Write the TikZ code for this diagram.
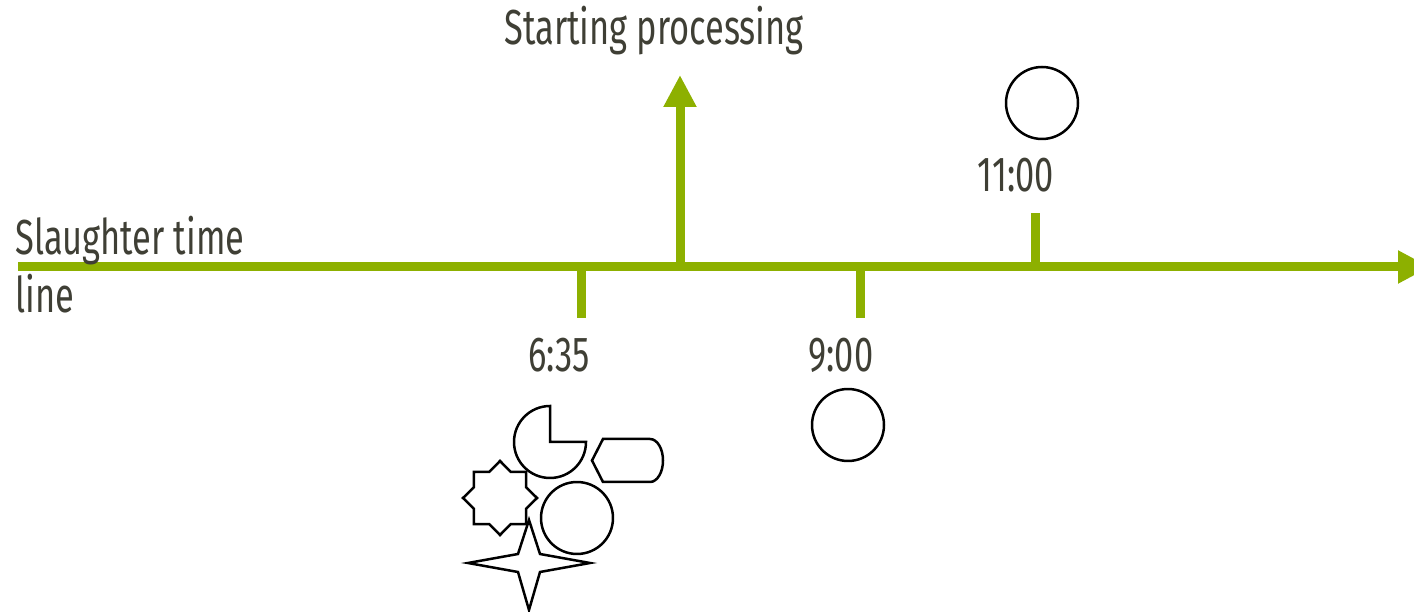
\documentclass[tikz,border=0pt]{standalone}
\usepackage{fontspec}
\setmainfont{Fira Sans}[FakeStretch=0.70]
\usetikzlibrary{arrows.meta,shapes.geometric}
\definecolor{leafgreen}{HTML}{8DB000}
\definecolor{inkgray}{HTML}{3F3F35}

\begin{document}
\begin{tikzpicture}[
x=0.02cm,y=0.02cm,
axis/.style={draw=leafgreen,line width=0.18cm},
timearrow/.style={axis,-{Triangle[width=0.62cm,length=0.64cm]}},
notch/.style={axis},
timetext/.style={text=inkgray,font=\fontsize{28}{34}\selectfont,inner sep=0pt},
outline/.style={draw=black,line width=0.05cm},
ring/.style={outline,circle,minimum size=1.44cm,inner sep=0pt}
]
\useasboundingbox (0,0) rectangle (1414,612);

% time line
\coordinate (origin) at (18,345);
\coordinate (far) at (1430,345);
\draw[timearrow] (origin) -- (far);

\coordinate (proc) at (680,345);
\coordinate (proctip) at (680,537);
\draw[timearrow] (proc) -- (proctip);

\coordinate (c635) at (581,345);
\coordinate (c635end) at (581,294);
\coordinate (c900) at (860,345);
\coordinate (c900end) at (860,294);
\coordinate (c1100) at (1035,345);
\coordinate (c1100end) at (1035,399);
\draw[notch] (c635) -- (c635end);
\draw[notch] (c900) -- (c900end);
\draw[notch] (c1100) -- (c1100end);

% texts
\node[timetext,anchor=base] (starting) at (654,567) {Starting processing};
\node[timetext,anchor=base west] (slaughter) at (15,357) {Slaughter time};
\node[timetext,anchor=base west] (line) at (15,299) {line};
\node[timetext,anchor=base] (t635) at (559,240) {6:35};
\node[timetext,anchor=base] (t900) at (841,240) {9:00};
\node[timetext,anchor=base] (t1100) at (1016,420) {11:00};

% items
\node[ring] (late) at (1042,509) {};
\node[ring] (mid) at (848,187) {};
\node[ring] (early) at (577,94) {};
\draw[outline] (550,170) -- (550,206) arc[start angle=90,end angle=360,radius=36] -- cycle;
\draw[outline] (603,173) -- (650,173) arc[start angle=90,end angle=-90,x radius=13,y radius=21.5]
  -- (603,130) -- (592,151.5) -- cycle;
\node[outline,star,star points=8,star point ratio=1.31,minimum size=1.48cm,inner sep=0pt] (octa) at (500,114) {};
\draw[outline] (468,49) -- (518,58) -- (529,92) -- (540,58) -- (590,49)
  -- (540,40) -- (529,2) -- (518,40) -- cycle;

\end{tikzpicture}
\end{document}
